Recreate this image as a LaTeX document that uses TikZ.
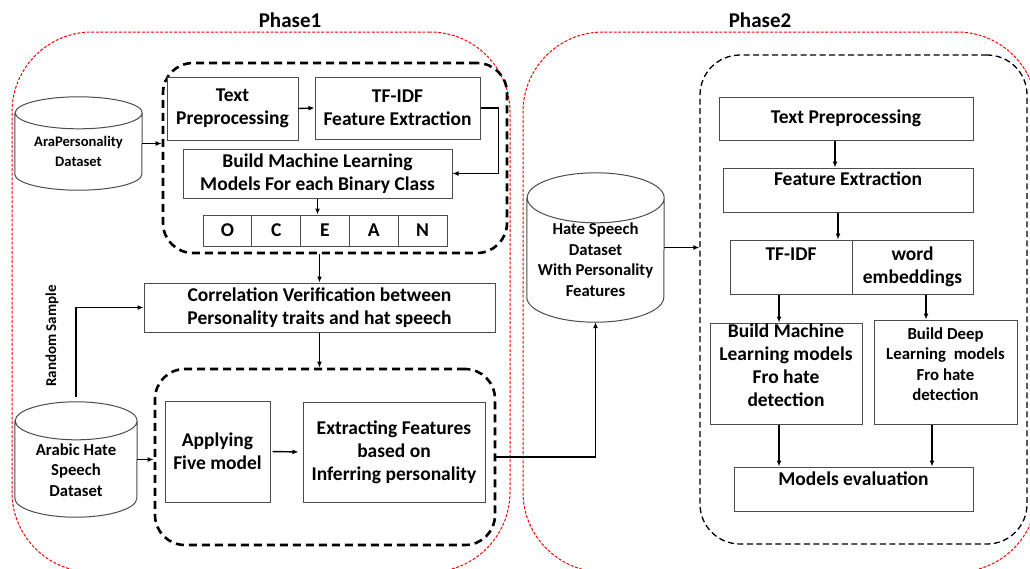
\documentclass[tikz,border=0pt]{standalone}
\usepackage{fontspec}
\setmainfont{Carlito}
\usetikzlibrary{arrows.meta,calc}
\tikzset{
  title/.style={font=\bfseries\fontsize{21}{25}\selectfont},
  phase/.style={draw=red, line width=1pt, dash pattern=on 3pt off 1.6pt, rounded corners=80pt},
  grpA/.style={draw=black, line width=2.6pt, dash pattern=on 8pt off 5pt, rounded corners=30pt},
  grpB/.style={draw=black, line width=1.3pt, dash pattern=on 6pt off 3.5pt, rounded corners=40pt},
  box/.style={draw=black!70, line width=1pt, fill=white, align=center, inner sep=1pt,
    font=\bfseries\fontsize{19.5}{23}\selectfont},
  smallbox/.style={box, font=\bfseries\fontsize{16.8}{20.5}\selectfont},
  cell/.style={box, minimum width=48.8pt, minimum height=31pt},
  cylnode/.style={inner sep=0pt},
  cylline/.style={draw=black!70, line width=1pt, fill=white},
  cyltext/.style={align=center, inner sep=0pt, font=\bfseries\fontsize{16.7}{20.5}\selectfont},
  rslabel/.style={inner sep=0pt, font=\bfseries\fontsize{15}{18}\selectfont},
  arr/.style={draw=black, line width=1.4pt, -{Latex[length=6pt,width=5pt]}},
}
\newcommand\drawcyl[3]{%
  \draw[cylline] ([yshift=-#2]#1.north west) -- ([yshift=#2]#1.south west)
    arc[start angle=180,end angle=360,x radius=#3,y radius=#2]
    -- ([yshift=-#2]#1.north east)
    arc[start angle=0,end angle=360,x radius=#3,y radius=#2];}
\begin{document}
\begin{tikzpicture}[x=1pt,y=-1pt]
\useasboundingbox (0,0) rectangle (1030,568);
\clip (0,0) rectangle (1030,568);
\fill[white] (0,0) rectangle (1030,568);

% phases
\node[title] (t1) at (290,20) {Phase1};
\node[title] (t2) at (760,20) {Phase2};
\node[phase, minimum width=498pt, minimum height=540pt] (p1) at (261,302) {};
\node[phase, minimum width=514pt, minimum height=540pt] (p2) at (780,302) {};

% dashed groups
\node[grpA, minimum width=344pt, minimum height=190pt] (g1) at (335,158) {};
\node[grpA, minimum width=340pt, minimum height=176pt] (g2) at (325,457) {};
\node[grpB, minimum width=327pt, minimum height=489pt] (g3) at (863.5,299.5) {};

% phase 1 boxes
\node[box, minimum width=131pt, minimum height=63pt] (tp) at (232.5,108.5) {Text\\Preprocessing};
\node[box, minimum width=165pt, minimum height=62pt] (tf) at (397.5,108) {TF-IDF\\Feature Extraction};
\node[box, minimum width=269pt, minimum height=49pt] (bml) at (317.5,173.5) {Build Machine Learning\\Models For each Binary Class};
\node[cell] (oO) at (227.4,230.5) {O};
\node[cell] (oC) at (276.2,230.5) {C};
\node[cell] (oE) at (325,230.5) {E};
\node[cell] (oA) at (373.8,230.5) {A};
\node[cell] (oN) at (422.6,230.5) {N};
\node[box, minimum width=351pt, minimum height=49pt] (corr) at (319.5,307.5) {Correlation Verification between\\Personality traits and hat speech};
\node[box, minimum width=105pt, minimum height=101pt] (app) at (217.5,451.5) {Applying\\Five model};
\node[box, minimum width=182pt, minimum height=100pt] (ext) at (394,452) {Extracting Features\\based on\\Inferring personality};

% cylinders
\node[cylnode, minimum width=127pt, minimum height=93pt] (ara) at (78.5,143.5) {};
\drawcyl{ara}{16pt}{63.5pt}
\node[cyltext, font=\bfseries\fontsize{14.6}{20.5}\selectfont] (araT) at (78.5,151.5) {AraPersonality\\Dataset};

\node[cylnode, minimum width=122pt, minimum height=115pt] (hate) at (76,459.5) {};
\drawcyl{hate}{19pt}{61pt}
\node[cyltext] (hateT) at (76,470) {Arabic Hate\\Speech\\Dataset};

\node[cylnode, minimum width=137pt, minimum height=149pt] (hp) at (595.5,247.5) {};
\drawcyl{hp}{25pt}{68.5pt}
\node[cyltext] (hpT) at (595.5,259.5) {Hate Speech\\Dataset\\With Personality\\Features};

\node[rslabel, rotate=90] (rs) at (52,336) {Random Sample};

% phase 2 boxes
\node[box, minimum width=254pt, minimum height=43pt] (tp2) at (846,118.5) {Text Preprocessing};
\node[box, minimum width=250pt, minimum height=44pt, text depth=22pt] (fe2) at (848,190) {Feature Extraction};
\node[box, minimum width=122pt, minimum height=54pt, text depth=26pt] (tfidf2) at (791,267) {TF-IDF};
\node[box, minimum width=121pt, minimum height=54pt] (we2) at (912.5,267) {word\\embeddings};
\node[box, minimum width=152pt, minimum height=101pt, text depth=16pt] (bml2) at (786,373.5) {Build Machine\\Learning models\\Fro hate\\detection};
\node[smallbox, minimum width=143pt, minimum height=104pt, text depth=16pt] (bdl2) at (945.5,372) {Build Deep\\Learning~ models\\Fro hate\\detection};
\node[box, minimum width=239pt, minimum height=44pt, text depth=20pt] (me2) at (853.5,489) {Models evaluation};

% arrows phase 1
\draw[arr] (ara.east) -- (ara.east -| g1.west);
\draw[arr] (tp.east) -- (tf.west);
\draw[arr] (tf.east) -- ++(18,0) |- (bml.east);
\draw[arr] (bml.south) -- (bml.south |- oE.north);
\draw[arr] (corr.north |- g1.south) -- (corr.north);
\draw[arr] (corr.south) -- (corr.south |- g2.north);
\draw[arr] ([yshift=5pt]hate.north) -- (hate.north |- corr.west) -- (corr.west);
\draw[arr] (hate.east) -- (hate.east -| g2.west);
\draw[arr, shorten <=2pt, shorten >=4pt] (app.east) -- (ext.west);
\draw[arr] (g2.east) -| (hp.south);
\draw[arr] (hp.east) -- (hp.east -| g3.west);

% arrows phase 2
\draw[arr] ([xshift=-11pt]tp2.south) -- ([xshift=-11pt]tp2.south |- fe2.north);
\draw[arr] ([xshift=-10pt]fe2.south) -- ([xshift=-10pt]fe2.south |- tfidf2.north);
\draw[arr] ([xshift=-12pt]tfidf2.south) -- ([xshift=-12pt]tfidf2.south |- bml2.north);
\draw[arr] ([xshift=13.5pt]we2.south) -- ([xshift=13.5pt]we2.south |- bdl2.north);
\draw[arr] ([xshift=-7pt]bml2.south) -- ([xshift=-7pt]bml2.south |- me2.north);
\draw[arr, line width=2pt] ([xshift=-13.5pt]bdl2.south) -- ([xshift=-13.5pt]bdl2.south |- me2.north);
\end{tikzpicture}
\end{document}
